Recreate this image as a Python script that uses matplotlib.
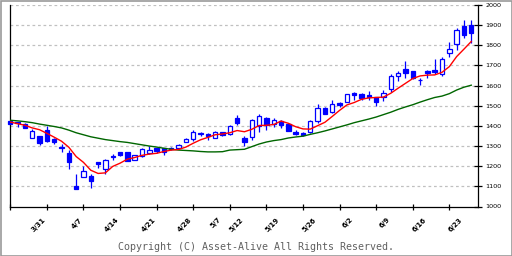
import matplotlib
matplotlib.use('Agg')
import matplotlib.pyplot as plt
from matplotlib.patches import Rectangle
import matplotlib.transforms as mtrans

opens = [1422, 1418, 1407, 1342, 1348, 1378, 1335, 1296, 1265, 1100,
         1146, 1151, 1220, 1188, 1248, 1269, 1269, 1232, 1250, 1266,
         1290, 1290, 1287, 1290, 1320, 1333, 1366, 1362, 1342, 1370,
         1358, 1441, 1340, 1345, 1398, 1438, 1408, 1423, 1411, 1368,
         1365, 1370, 1425, 1491, 1469, 1514, 1519, 1561, 1556, 1551,
         1541, 1544, 1585, 1647, 1680, 1670, 1626, 1672, 1677, 1657,
         1760, 1804, 1896, 1900]
highs = [1425, 1420, 1412, 1386, 1350, 1400, 1342, 1308, 1279, 1160,
         1199, 1160, 1221, 1234, 1262, 1270, 1270, 1256, 1290, 1298,
         1292, 1292, 1295, 1308, 1340, 1378, 1370, 1365, 1373, 1372,
         1405, 1456, 1348, 1436, 1458, 1444, 1438, 1428, 1413, 1378,
         1370, 1428, 1507, 1493, 1531, 1519, 1560, 1568, 1561, 1572,
         1543, 1577, 1657, 1672, 1721, 1673, 1640, 1677, 1730, 1743,
         1817, 1884, 1925, 1925]
lows = [1408, 1395, 1388, 1340, 1303, 1320, 1312, 1270, 1188, 1085,
        1144, 1091, 1193, 1163, 1229, 1249, 1224, 1230, 1248, 1263,
        1265, 1254, 1280, 1288, 1318, 1323, 1352, 1332, 1340, 1348,
        1356, 1404, 1299, 1332, 1370, 1378, 1395, 1391, 1373, 1353,
        1350, 1365, 1416, 1457, 1464, 1494, 1517, 1528, 1531, 1527,
        1499, 1524, 1569, 1622, 1638, 1632, 1602, 1640, 1660, 1647,
        1743, 1776, 1834, 1809]
closes = [1410, 1416, 1390, 1373, 1315, 1323, 1320, 1292, 1220, 1087,
          1176, 1126, 1212, 1232, 1250, 1255, 1226, 1254, 1287, 1279,
          1274, 1270, 1291, 1303, 1337, 1368, 1358, 1348, 1371, 1353,
          1401, 1412, 1320, 1428, 1448, 1406, 1431, 1406, 1375, 1360,
          1355, 1423, 1491, 1459, 1507, 1505, 1557, 1552, 1537, 1542,
          1519, 1564, 1647, 1663, 1663, 1640, 1629, 1664, 1669, 1730,
          1780, 1876, 1851, 1859]
ma_short = [1419, 1411, 1403, 1390, 1381, 1363, 1344, 1324, 1294, 1248,
            1219, 1180, 1164, 1167, 1199, 1215, 1235, 1243, 1254, 1260,
            1264, 1273, 1280, 1283, 1295, 1314, 1331, 1343, 1356, 1360,
            1366, 1377, 1371, 1383, 1402, 1403, 1407, 1424, 1413, 1396,
            1385, 1384, 1401, 1418, 1447, 1477, 1504, 1516, 1532, 1539,
            1541, 1543, 1562, 1587, 1611, 1635, 1648, 1652, 1653, 1666,
            1694, 1744, 1781, 1819]
ma_long = [1428, 1425, 1421, 1416, 1409, 1403, 1397, 1390, 1379, 1366,
           1356, 1346, 1339, 1332, 1327, 1322, 1318, 1312, 1306, 1300,
           1295, 1289, 1284, 1280, 1278, 1276, 1273, 1271, 1271, 1272,
           1280, 1282, 1284, 1297, 1310, 1320, 1327, 1332, 1340, 1345,
           1349, 1358, 1366, 1375, 1385, 1395, 1405, 1416, 1425, 1434,
           1444, 1456, 1468, 1482, 1494, 1505, 1518, 1530, 1541, 1548,
           1560, 1578, 1592, 1602]
label_idx = [5, 10, 15, 20, 25, 29, 32, 37, 42, 47, 52, 57, 62]
label_txt = ['3/31', '4/7', '4/14', '4/21', '4/28', '5/7', '5/12',
             '5/19', '5/26', '6/2', '6/9', '6/16', '6/23']
tick_idx = [0, 5, 10, 15, 20, 25, 30, 35, 40, 45, 50, 55, 60]
yticks = [1000, 1100, 1200, 1300, 1400, 1500, 1600, 1700, 1800, 1900, 2000]

W, H = 512, 256
fig = plt.figure(figsize=(W / 100, H / 100), dpi=100)
fig.patch.set_facecolor('white')
L, R, T, B = 10.3, 478.0, 5.0, 206.5
ax = fig.add_axes([L / W, 1 - B / H, (R - L) / W, (B - T) / H])
ax.set_xlim(0, 63.92)
ax.set_ylim(1000, 2000)

blue = '#0000ff'
n = len(opens)
xs = list(range(n))
ax.vlines(xs, lows, highs, color=blue, linewidth=0.9, zorder=3, clip_on=False)
bw = 0.6
for i in range(n):
    o, c = opens[i], closes[i]
    lo, hi = min(o, c), max(o, c)
    up = c > o
    rect = Rectangle((i - bw / 2, lo), bw, max(hi - lo, 1.5),
                     facecolor='white' if up else blue, edgecolor=blue,
                     linewidth=0.9, zorder=4, clip_on=False)
    ax.add_patch(rect)

ax.plot(xs, ma_long, color='#006600', linewidth=1.0, zorder=5)
ax.plot(xs, ma_short, color='#ff0000', linewidth=1.0, zorder=5)

for y in yticks[1:]:
    ax.axhline(y, color='#c0c0c0', linewidth=0.9, linestyle=(0, (2.2, 2.2)), zorder=1)

for s in ['left', 'bottom', 'right']:
    ax.spines[s].set_color('black')
    ax.spines[s].set_linewidth(0.9)
ax.spines['top'].set_visible(False)

ax.set_yticks(yticks)
ax.yaxis.tick_right()
ax.tick_params(axis='y', direction='inout', length=5.5, width=0.9,
               labelsize=4.6, pad=2.5, colors='black')
ax.set_xticks(tick_idx)
ax.set_xticklabels([])
ax.tick_params(axis='x', direction='inout', length=4.5, width=0.9)

trans = mtrans.blended_transform_factory(ax.transData, ax.transAxes)
for xi, t in zip(label_idx, label_txt):
    ax.text(xi, -0.05, t, transform=trans, rotation=45, ha='right', va='top',
            fontsize=5.0, fontweight='bold', color='black')

fig.text(0.5, 1 - 246.7 / H, 'Copyright (C) Asset-Alive All Rights Reserved.',
         ha='center', va='center', fontsize=7.2, family='DejaVu Sans Mono',
         color='#606060')

fig.add_artist(Rectangle((0.5 / W, 0.5 / H), 1 - 1 / W, 1 - 1 / H,
                         transform=fig.transFigure, fill=False,
                         edgecolor='#999999', linewidth=1.2))

fig.savefig('out.png', dpi=100)
